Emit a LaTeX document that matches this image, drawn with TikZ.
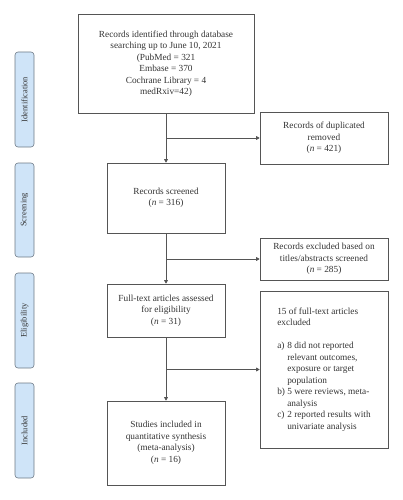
\documentclass[tikz,border=0pt]{standalone}
\usepackage{fontspec}
\setmainfont{Liberation Serif}
\usetikzlibrary{arrows.meta}
\definecolor{txt}{HTML}{333333}
\definecolor{boxline}{HTML}{555555}
\definecolor{barfill}{HTML}{CFE4F8}
\definecolor{barline}{HTML}{6E7A86}
\begin{document}
\begin{tikzpicture}[x=1pt,y=-1pt,
  flowbox/.style={draw=boxline, line width=0.6pt, inner sep=0pt, align=center,
    text=txt, font=\fontsize{9.3}{11.5}\selectfont},
  phasebar/.style={draw=barline, fill=barfill, line width=0.6pt, rounded corners=3pt,
    minimum width=19pt, inner sep=0pt, text=txt, font=\fontsize{8.4}{9}\selectfont},
  arr/.style={draw=boxline, line width=0.6pt, -{Triangle[length=3.5pt,width=3.8pt]}},
  ln/.style={draw=boxline, line width=0.6pt}]
\useasboundingbox (0,0) rectangle (402,500);
% phase bars
\node[phasebar, minimum height=95pt] (pid) at (24.5,99.5) {\rotatebox{90}{Identification}};
\node[phasebar, minimum height=94pt] (psc) at (24.5,210) {\rotatebox{90}{Screening}};
\node[phasebar, minimum height=95pt] (pel) at (24.5,320.5) {\rotatebox{90}{Eligibility}};
\node[phasebar, minimum height=95pt] (pin) at (24.5,430.5) {\rotatebox{90}{Included}};
% main boxes
\node[flowbox, minimum width=176pt, minimum height=99pt] (top) at (166,63.5)
  {Records identified through database\\searching up to June 10, 2021\\(PubMed = 321\\Embase = 370\\Cochrane Library = 4\\medRxiv=42)};
\node[flowbox, minimum width=118pt, minimum height=70pt] (scr) at (166,198)
  {Records screened\\(\textit{n} = 316)};
\node[flowbox, minimum width=118pt, minimum height=53pt] (ful) at (166,310.5)
  {Full-text articles assessed\\for eligibility\\(\textit{n} = 31)};
\node[flowbox, minimum width=118pt, minimum height=84pt] (inc) at (166,443)
  {Studies included in\\quantitative synthesis\\(meta-analysis)\\(\textit{n} = 16)};
% side boxes
\node[flowbox, minimum width=128pt, minimum height=52pt] (dup) at (324,138)
  {Records of duplicated\\removed\\(\textit{n} = 421)};
\node[flowbox, minimum width=128pt, minimum height=42pt] (exc) at (324,259)
  {Records excluded based on\\titles/abstracts screened\\(\textit{n} = 285)};
\node[flowbox, minimum width=128pt, minimum height=157pt, align=left] (ex2) at (324,369.5)
  {15 of full-text articles\\excluded\\[11.5pt]
   \makebox[10pt][l]{a)}8 did not reported\\
   \hspace*{10pt}relevant outcomes,\\
   \hspace*{10pt}exposure or target\\
   \hspace*{10pt}population\\
   \makebox[10pt][l]{b)}5 were reviews, meta-\\
   \hspace*{10pt}analysis\\
   \makebox[10pt][l]{c)}2 reported results with\\
   \hspace*{10pt}univariate analysis};
% connectors
\draw[arr] (top.south) -- (scr.north);
\draw[arr] (top.south |- dup.west) -- (dup.west);
\draw[arr] (scr.south) -- (ful.north);
\draw[arr] (scr.south |- exc.west) -- (exc.west);
\draw[arr] (ful.south) -- (inc.north);
\draw[arr] (ful.south |- ex2.west) -- (ex2.west);
\end{tikzpicture}
\end{document}
